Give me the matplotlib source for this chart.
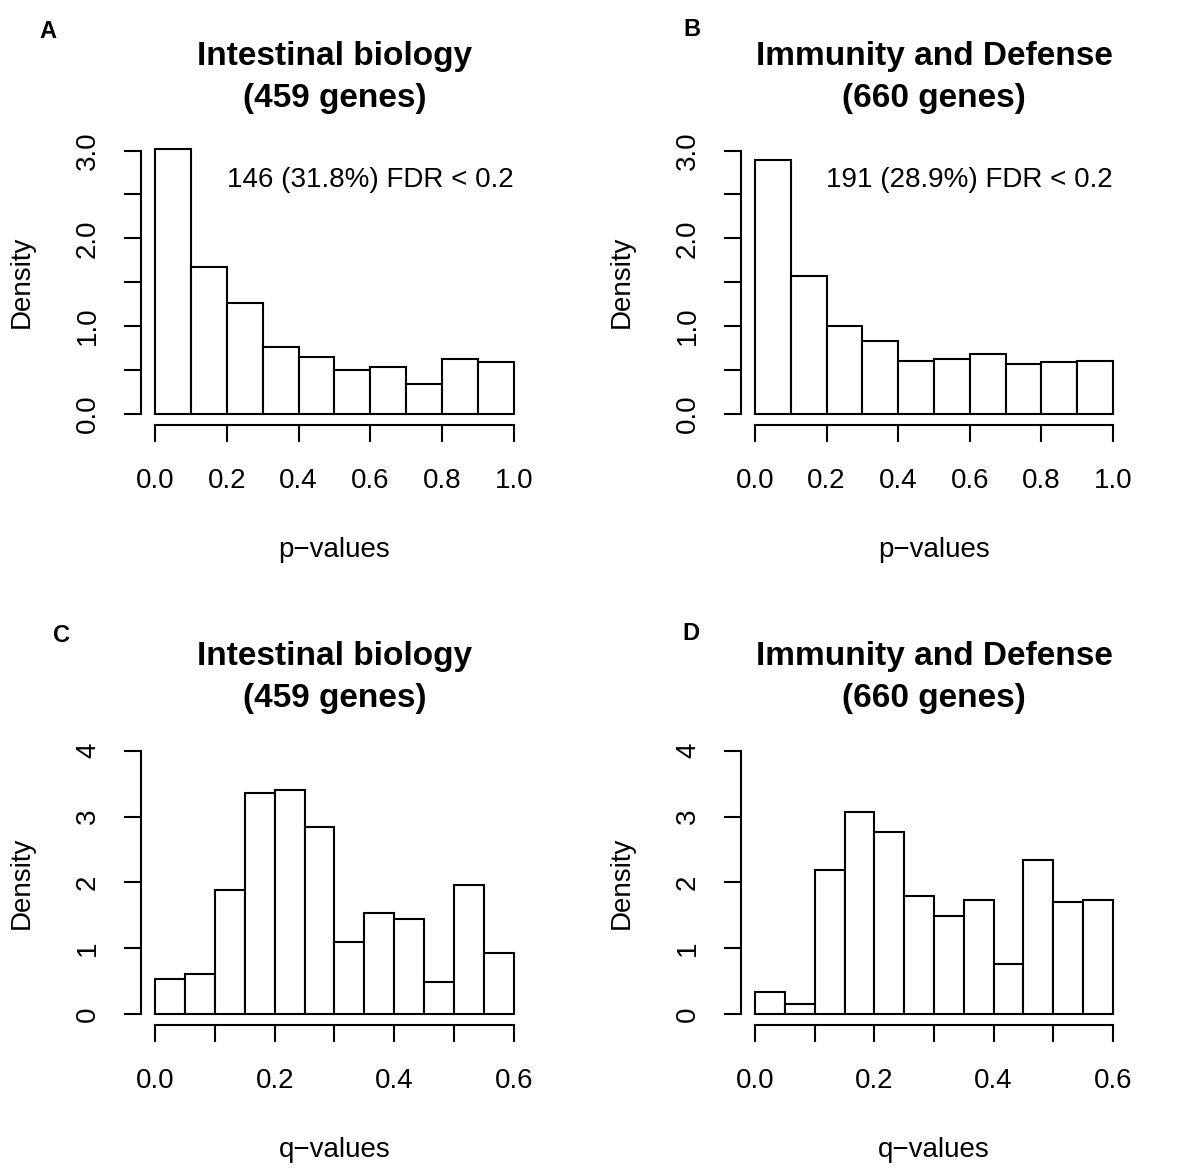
import numpy as np
import matplotlib.pyplot as plt

plt.rcParams['font.family'] = ['Liberation Sans', 'DejaVu Sans']

W, H = 1200, 1170

# histogram densities
p_edges = [0.0, 0.1, 0.2, 0.3, 0.4, 0.5, 0.6, 0.7, 0.8, 0.9, 1.0]
q_edges = [0.0, 0.05, 0.10, 0.15, 0.20, 0.25, 0.30, 0.35, 0.40, 0.45, 0.50, 0.55, 0.60]

intestinal_p = [3.02, 1.674, 1.26, 0.759, 0.653, 0.50, 0.539, 0.342, 0.626, 0.588]
immunity_p = [2.888, 1.571, 0.998, 0.827, 0.603, 0.630, 0.679, 0.573, 0.588, 0.603]
intestinal_q = [0.527, 0.613, 1.878, 3.357, 3.403, 2.835, 1.094, 1.529, 1.443, 0.481, 1.965, 0.922]
immunity_q = [0.339, 0.157, 2.187, 3.068, 2.765, 1.792, 1.489, 1.727, 0.759, 2.339, 1.696, 1.727]

titles = ["Intestinal biology", "Immunity and Defense"]
gene_counts = ["(459 genes)", "(660 genes)"]
fdr_notes = ["146 (31.8%) FDR < 0.2", "191 (28.9%) FDR < 0.2"]
panel_letters = ["A", "B", "C", "D"]

p_yticks = [0.0, 0.5, 1.0, 1.5, 2.0, 2.5, 3.0]
p_ylabels = ["0.0", "", "1.0", "", "2.0", "", "3.0"]
p_xticks = [0.0, 0.2, 0.4, 0.6, 0.8, 1.0]
p_xlabels = ["0.0", "0.2", "0.4", "0.6", "0.8", "1.0"]
q_yticks = [0, 1, 2, 3, 4]
q_ylabels = ["0", "1", "2", "3", "4"]
q_xticks = [0.0, 0.1, 0.2, 0.3, 0.4, 0.5, 0.6]
q_xlabels = ["0.0", "", "0.2", "", "0.4", "", "0.6"]

FS = 20
LW = 1.5

fig = plt.figure(figsize=(W / 100, H / 100), dpi=100)


def add_ax(left, top, right, bottom):
    return fig.add_axes([left / W, 1 - bottom / H, (right - left) / W, (bottom - top) / H])


def r_hist(ax, edges, dens, xr, yr, xticks, xlabels, yticks, ylabels):
    edges = np.array(edges)
    ax.bar(edges[:-1], dens, width=np.diff(edges), align='edge',
           facecolor='white', edgecolor='black', linewidth=LW)
    dx = 0.04 * (xr[1] - xr[0])
    dy = 0.04 * (yr[1] - yr[0])
    ax.set_xlim(xr[0] - dx, xr[1] + dx)
    ax.set_ylim(yr[0] - dy, yr[1] + dy)
    for s in ['top', 'right']:
        ax.spines[s].set_visible(False)
    ax.spines['left'].set_bounds(*yr)
    ax.spines['bottom'].set_bounds(*xr)
    for s in ['left', 'bottom']:
        ax.spines[s].set_linewidth(LW)
    ax.set_xticks(xticks)
    ax.set_xticklabels(xlabels, fontsize=FS)
    ax.set_yticks(yticks)
    ax.set_yticklabels(ylabels, fontsize=FS, rotation=90, va='center')
    ax.tick_params(axis='both', direction='out', length=12.5, width=LW)
    ax.tick_params(axis='x', pad=19)
    ax.tick_params(axis='y', pad=16)
    ax.patch.set_alpha(0)


cols = [(140.6, 528.4), (740.7, 1127.3)]
rows = [(140, 424.5), (740.2, 1024.5)]
p_data = [intestinal_p, immunity_p]
q_data = [intestinal_q, immunity_q]
letter_pos = [(48, 31), (692, 29), (62, 636), (691, 633)]

for r, (top, bot) in enumerate(rows):
    for c, (left, right) in enumerate(cols):
        ax = add_ax(left, top, right, bot)
        if r == 0:
            r_hist(ax, p_edges, p_data[c], (0, 1), (0, 3),
                   p_xticks, p_xlabels, p_yticks, p_ylabels)
            ax.text(1.0, 2.58, fdr_notes[c], ha='right', va='baseline', fontsize=FS)
            xlab = "p\u2212values"
        else:
            r_hist(ax, q_edges, q_data[c], (0, 0.6), (0, 4),
                   q_xticks, q_xlabels, q_yticks, q_ylabels)
            xlab = "q\u2212values"
        cx = (left + right) / 2 / W
        off = 600 * r
        fig.text(cx, 1 - (65 + off) / H, titles[c], ha='center', va='baseline',
                 fontsize=24, fontweight='bold')
        fig.text(cx, 1 - (107 + off) / H, gene_counts[c], ha='center', va='baseline',
                 fontsize=24, fontweight='bold')
        fig.text(cx, 1 - (557 + off) / H, xlab, ha='center', va='baseline', fontsize=FS)
        fig.text((left - 118.6) / W, 1 - (top + bot) / 2 / H, "Density", rotation=90,
                 ha='center', va='center', fontsize=FS)
        lx, ly = letter_pos[2 * r + c]
        fig.text(lx / W, 1 - ly / H, panel_letters[2 * r + c], ha='center', va='center',
                 fontsize=17, fontweight='bold')

fig.savefig("out.png", dpi=100, facecolor='white')
